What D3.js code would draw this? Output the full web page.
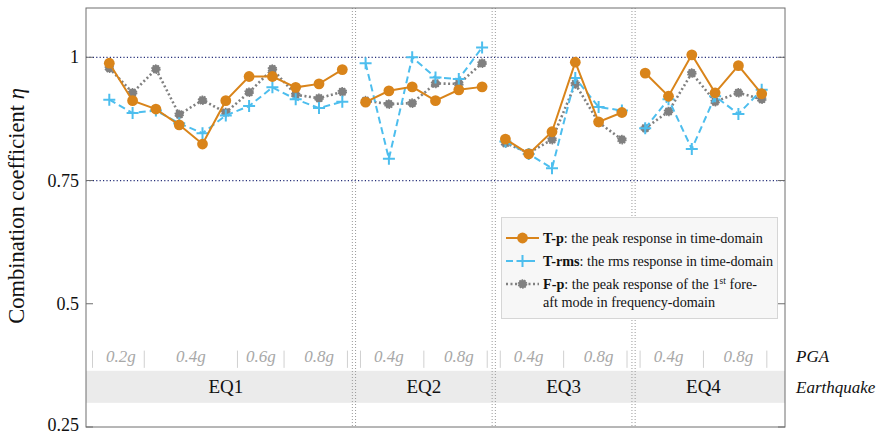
<!DOCTYPE html>
<html>
<head>
<meta charset="utf-8">
<script src="https://cdn.jsdelivr.net/npm/d3@7"></script>
<style>
  html, body { margin: 0; padding: 0; background: #fff; }
</style>
</head>
<body>
<svg id="chart" width="876" height="435" font-family="'Liberation Serif', 'DejaVu Serif', serif"></svg>
<script>
// Earthquake groups and the PGA sub-groups inside each (counts of cases)
const earthquakes = ["EQ1", "EQ2", "EQ3", "EQ4"];
const eqCounts = [11, 6, 6, 6];
const pgaLabels = [["0.2g", "0.4g", "0.6g", "0.8g"], ["0.4g", "0.8g"], ["0.4g", "0.8g"], ["0.4g", "0.8g"]];
const pgaCounts = [[2, 4, 2, 3], [3, 3], [3, 3], [3, 3]];

// Combination coefficient per case
const tPeak = [0.988, 0.912, 0.895, 0.863, 0.824, 0.912, 0.961, 0.961, 0.939, 0.946, 0.975,
               0.909, 0.932, 0.940, 0.912, 0.934, 0.940,
               0.834, 0.804, 0.849, 0.990, 0.869, 0.888,
               0.968, 0.921, 1.005, 0.928, 0.983, 0.926];
const tRms  = [0.914, 0.887, 0.892, 0.866, 0.846, 0.882, 0.901, 0.939, 0.915, 0.897, 0.910,
               0.988, 0.794, 1.000, 0.959, 0.956, 1.020,
               0.829, 0.804, 0.775, 0.958, 0.899, 0.892,
               0.856, 0.915, 0.814, 0.921, 0.885, 0.934];
const fPeak = [0.978, 0.928, 0.976, 0.884, 0.913, 0.888, 0.929, 0.976, 0.924, 0.917, 0.930,
               0.912, 0.905, 0.907, 0.947, 0.946, 0.988,
               0.826, 0.806, 0.833, 0.946, 0.868, 0.833,
               0.856, 0.890, 0.968, 0.910, 0.928, 0.915];

const yTicks = [0.25, 0.5, 0.75, 1];
const refLines = [0.75, 1];

const SERIF = "'Liberation Serif', 'DejaVu Serif', serif";
const svg = d3.select("#chart");
const plotL = 86, plotR = 785, plotT = 8, plotB = 427;
const n = tPeak.length;

const x = d3.scaleLinear().domain([-1, n]).range([plotL, plotR]);
const y = d3.scaleLinear().domain([0.25, 1.1]).range([plotB, plotT]);

function label(sel) { return sel.append("text").attr("font-family", SERIF); }

// Category band for the earthquake row
svg.append("rect")
  .attr("x", plotL).attr("width", plotR - plotL)
  .attr("y", y(0.364)).attr("height", y(0.299) - y(0.364))
  .attr("fill", "#ebebeb");

// Reference lines at 0.75 and 1
svg.selectAll("line.ref").data(refLines).join("line")
  .attr("class", "ref")
  .attr("x1", plotL).attr("x2", plotR)
  .attr("y1", d => y(d)).attr("y2", d => y(d))
  .attr("stroke", "#27307a").attr("stroke-width", 1.2)
  .attr("stroke-dasharray", "1.2,2.2");

// Earthquake boundaries: double dotted verticals
const starts = [];
let acc = 0;
eqCounts.forEach(c => { starts.push(acc); acc += c; });
const separators = starts.slice(1).map(s => s - 0.5);
separators.forEach(s => {
  [-1.6, 1.6].forEach(off => {
    svg.append("line")
      .attr("x1", x(s) + off).attr("x2", x(s) + off)
      .attr("y1", plotT).attr("y2", plotB)
      .attr("stroke", "#9a9a9a").attr("stroke-width", 1)
      .attr("stroke-dasharray", "1,2");
  });
});

// PGA labels and their small divider ticks
pgaCounts.forEach((counts, g) => {
  let i0 = starts[g];
  const bounds = [i0 - 0.5];
  counts.forEach(c => { i0 += c; bounds.push(i0 - 0.5); });
  // the first group opens at the frame edge
  const outerStart = g === 0 ? -1 : bounds[0];
  const ticks = bounds.map((b, k) => k === 0 ? outerStart + 0.28 : (k === bounds.length - 1 ? b - 0.28 : b));
  ticks.forEach(t => {
    svg.append("line")
      .attr("x1", x(t)).attr("x2", x(t))
      .attr("y1", y(0.405)).attr("y2", y(0.37))
      .attr("stroke", "#d0d0d0").attr("stroke-width", 1);
  });
  counts.forEach((c, k) => {
    label(svg)
      .attr("x", x((bounds[k] + bounds[k + 1]) / 2))
      .attr("y", y(0.382))
      .attr("text-anchor", "middle")
      .attr("font-style", "italic")
      .attr("font-size", 17)
      .attr("fill", "#a8a8a8")
      .text(pgaLabels[g][k]);
  });
  label(svg)
    .attr("x", x(starts[g] + (eqCounts[g] - 1) / 2))
    .attr("y", y(0.318))
    .attr("text-anchor", "middle")
    .attr("font-size", 19)
    .attr("fill", "#111")
    .text(earthquakes[g]);
});

// Row titles on the right
label(svg).attr("x", 796).attr("y", y(0.382))
  .attr("font-style", "italic").attr("font-size", 17).attr("fill", "#111").text("PGA");
label(svg).attr("x", 796).attr("y", y(0.318))
  .attr("font-style", "italic").attr("font-size", 17).attr("fill", "#111").text("Earthquake");

// Frame
svg.append("rect")
  .attr("x", plotL).attr("y", plotT)
  .attr("width", plotR - plotL).attr("height", plotB - plotT)
  .attr("fill", "none").attr("stroke", "#6e6e6e").attr("stroke-width", 1);

// Y axis ticks (inward, both sides) and labels
yTicks.forEach(t => {
  svg.append("line").attr("x1", plotL).attr("x2", plotL + 7)
    .attr("y1", y(t)).attr("y2", y(t)).attr("stroke", "#6e6e6e");
  svg.append("line").attr("x1", plotR - 7).attr("x2", plotR)
    .attr("y1", y(t)).attr("y2", y(t)).attr("stroke", "#6e6e6e");
  label(svg)
    .attr("x", plotL - 7).attr("y", Math.min(y(t) + 6, 431))
    .attr("text-anchor", "end")
    .attr("font-size", 18).attr("fill", "#111")
    .text(d3.format("~g")(t));
});

// Y axis title
const yTitle = label(svg)
  .attr("transform", "translate(24, 206) rotate(-90)")
  .attr("text-anchor", "middle")
  .attr("font-size", 22.5).attr("fill", "#111");
yTitle.append("tspan").text("Combination coefficient ");
yTitle.append("tspan").attr("font-style", "italic").text("η");

// Series styles
const series = [
  { name: "T-p", values: tPeak, color: "#d9841a", dash: null, width: 2, marker: "circle" },
  { name: "T-rms", values: tRms, color: "#4dbeee", dash: "7,4", width: 2, marker: "plus" },
  { name: "F-p", values: fPeak, color: "#808080", dash: "2,2.5", width: 2.6, marker: "dot" }
];

const line = d3.line().x(d => x(d.i)).y(d => y(d.v));

function drawMarker(g, kind, cx, cy, color) {
  if (kind === "circle") {
    g.append("circle").attr("cx", cx).attr("cy", cy).attr("r", 5.4).attr("fill", color);
  } else if (kind === "plus") {
    g.append("path")
      .attr("d", `M${cx - 6},${cy}H${cx + 6}M${cx},${cy - 6}V${cy + 6}`)
      .attr("stroke", color).attr("stroke-width", 2);
  } else {
    g.append("circle").attr("cx", cx).attr("cy", cy).attr("r", 4)
      .attr("fill", color).attr("stroke", color).attr("stroke-width", 1.6)
      .attr("stroke-dasharray", "1.5,1");
  }
}

// Draw the grey series first so the orange and blue sit on top
[series[2], series[1], series[0]].forEach(s => {
  const g = svg.append("g");
  eqCounts.forEach((c, gi) => {
    const pts = d3.range(starts[gi], starts[gi] + c).map(i => ({ i, v: s.values[i] }));
    g.append("path")
      .attr("d", line(pts))
      .attr("fill", "none")
      .attr("stroke", s.color)
      .attr("stroke-width", s.width)
      .attr("stroke-dasharray", s.dash);
    pts.forEach(p => drawMarker(g, s.marker, x(p.i), y(p.v), s.color));
  });
});

// Legend
const lg = svg.append("g");
lg.append("rect")
  .attr("x", 501.5).attr("y", 217.5).attr("width", 276).attr("height", 101)
  .attr("fill", "#f7f7f7").attr("stroke", "#d6d6d6");
const legendRows = [
  { s: series[0], y: 238, lines: [[": the peak response in time-domain"]] },
  { s: series[1], y: 261, lines: [[": the rms response in time-domain"]] },
  { s: series[2], y: 284, lines: [[": the peak response of the 1", "st", " fore-"], ["aft mode in frequency-domain"]] }
];
legendRows.forEach(r => {
  lg.append("line")
    .attr("x1", 506).attr("x2", 539)
    .attr("y1", r.y).attr("y2", r.y)
    .attr("stroke", r.s.color).attr("stroke-width", r.s.width)
    .attr("stroke-dasharray", r.s.dash);
  drawMarker(lg, r.s.marker, 522.5, r.y, r.s.color);
  const t = label(lg).attr("x", 543).attr("y", r.y + 5)
    .attr("font-size", 14.2).attr("fill", "#111");
  t.append("tspan").attr("font-weight", "bold").text(r.s.name);
  const first = r.lines[0];
  t.append("tspan").text(first[0]);
  if (first.length > 1) {
    t.append("tspan").attr("font-size", 9.5).attr("dy", -5).text(first[1]);
    t.append("tspan").attr("dy", 5).text(first[2]);
  }
  if (r.lines.length > 1) {
    label(lg).attr("x", 543).attr("y", r.y + 23)
      .attr("font-size", 14.2).attr("fill", "#111").text(r.lines[1][0]);
  }
});
</script>
</body>
</html>
